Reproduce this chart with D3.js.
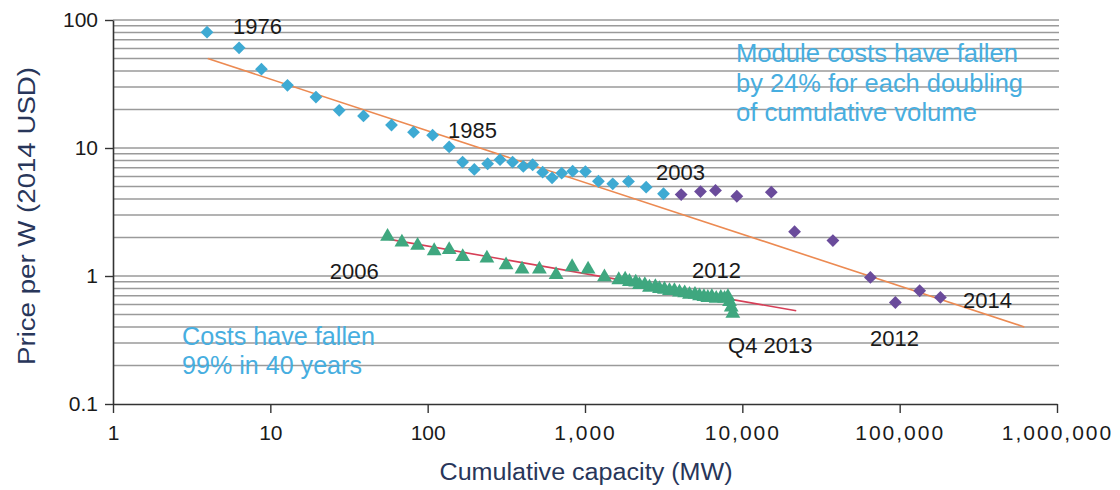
<!DOCTYPE html>
<html><head><meta charset="utf-8">
<script src="https://cdn.jsdelivr.net/npm/d3@7"></script>
<style>body{margin:0;background:#fff}svg{display:block}text{font-family:"Liberation Sans",Arial,Helvetica,sans-serif}</style>
</head><body><svg id="c" width="1120" height="490"></svg>
<script>
// Module price history (cumulative MW, $/W) — blue diamonds
const moduleBlue = [[3.96,80.4],[6.33,60.6],[8.78,41.3],[12.85,30.9],[19.5,25.0],[27.4,19.7],[39.1,17.8],[58.9,15.1],[81.3,13.3],[107.5,12.6],[137,10.2],[166.8,7.76],[197.9,6.8],[240.5,7.53],[288.4,8.1],[346.7,7.76],[405.5,7.18],[464.7,7.4],[538,6.47],[617.6,5.85],[711,6.36],[835,6.59],[1006,6.54],[1217,5.5],[1501,5.25],[1889,5.48],[2448,4.94],[3155,4.39]];
// later module prices — purple diamonds
const modulePurple = [[4085,4.33],[5420,4.57],[6754,4.66],[9228,4.2],[15280,4.52],[21480,2.22],[37640,1.89],[65150,0.975],[93900,0.621],[134000,0.767],[181500,0.68]];
// system/quarterly prices — green triangles
const systemGreen = [[55.6,2.07],[68.6,1.87],[86.3,1.76],[110,1.6],[137,1.63],[167,1.44],[238,1.4],[315,1.24],[398,1.15],[513,1.15],[655,1.04],[828,1.2],[1046,1.15],[1329,1.0],[1639,0.95],[1800,0.96],[1916,0.92],[2100,0.91],[2218,0.87],[2400,0.87],[2568,0.83],[2800,0.84],[2973,0.81],[3200,0.8],[3443,0.78],[3700,0.78],[3986,0.76],[4300,0.75],[4615,0.73],[5000,0.73],[5342,0.71],[5700,0.7],[6033,0.69],[6400,0.7],[6823,0.68],[7300,0.69],[7709,0.68],[8100,0.7],[8290,0.64],[8500,0.58],[8700,0.52]];
// trend lines
const moduleTrend = [[4,50],[620000,0.40]];
const systemTrend = [[55,1.95],[22000,0.535]];
// axis ticks
const xTicks = [1,10,100,1000,10000,100000,1000000];
const yTicks = [0.1,1,10,100];
// annotations: [text, x value, y value]
const yearLabels = [["1976",5.79,77.7],["1985",134.7,11.97],["2003",2827,5.62],["2012",4786,0.965],["2006",23.9,0.948],["Q4 2013",8110,0.25],["2012",64800,0.284],["2014",252700,0.562]];
const moduleNote = ["Module costs have fallen","by 24% for each doubling","of cumulative volume"];
const costsNote = ["Costs have fallen","99% in 40 years"];

const svg = d3.select("#c");
const x = d3.scaleLog().domain([1,1e6]).range([113,1057]);
const y = d3.scaleLog().domain([0.1,100]).range([404,20]);

// gridlines
const grid = [];
[0.1,1,10].forEach(d=>{for(let k=1;k<=9;k++){const v=d*k; if(v>0.1+1e-9) grid.push(v);}});
grid.push(100);
svg.append("g").selectAll("line").data(grid).join("line")
  .attr("x1",x(1)).attr("x2",x(1e6)+2)
  .attr("y1",d=>y(d)).attr("y2",d=>y(d))
  .attr("stroke","#9a9a9a").attr("stroke-width",1.5);

// notes (blue text)
const blueTxt = "#47aee0";
svg.append("g").selectAll("text").data(moduleNote).join("text")
  .attr("x",736).attr("y",(d,i)=>62+i*29.7)
  .attr("fill",blueTxt).attr("font-size",25)
  .attr("textLength",(d,i)=>[282,287,241][i]).attr("lengthAdjust","spacingAndGlyphs")
  .text(d=>d);
svg.append("g").selectAll("text").data(costsNote).join("text")
  .attr("x",182).attr("y",(d,i)=>345+i*28.5)
  .attr("fill",blueTxt).attr("font-size",25)
  .attr("textLength",(d,i)=>[193,180][i]).attr("lengthAdjust","spacingAndGlyphs")
  .text(d=>d);

// trend lines
const line = d3.line().x(d=>x(d[0])).y(d=>y(d[1]));
svg.append("path").datum(systemTrend).attr("d",line).attr("fill","none").attr("stroke","#d63f57").attr("stroke-width",1.6);

// markers
const tri = d3.symbol().type(d3.symbolTriangle).size(95);
svg.append("g").selectAll("path").data(systemGreen).join("path")
  .attr("d",tri).attr("transform",d=>`translate(${x(d[0])},${y(d[1])+1})`)
  .attr("fill","#3fa77f");

svg.append("path").datum(moduleTrend).attr("d",line).attr("fill","none").attr("stroke","#ec8a52").attr("stroke-width",1.6);

const dia = d3.symbol().type(d3.symbolSquare).size(82);
svg.append("g").selectAll("path").data(moduleBlue).join("path")
  .attr("d",dia).attr("transform",d=>`translate(${x(d[0])},${y(d[1])}) rotate(45)`)
  .attr("fill","#3eaad3");
svg.append("g").selectAll("path").data(modulePurple).join("path")
  .attr("d",dia).attr("transform",d=>`translate(${x(d[0])},${y(d[1])}) rotate(45)`)
  .attr("fill","#6a4b9b");

// year labels
svg.append("g").selectAll("text").data(yearLabels).join("text")
  .attr("x",d=>x(d[1])).attr("y",d=>y(d[2]))
  .attr("font-size",22).attr("fill","#1a1a1a").text(d=>d[0]);

// axes
const axColor = "#333";
const gx = svg.append("g").attr("transform","translate(0,404)")
  .call(d3.axisBottom(x).tickValues(xTicks).tickFormat(d3.format(",")).tickSize(9).tickSizeOuter(0).tickPadding(12));
const gy = svg.append("g").attr("transform","translate(113,0)")
  .call(d3.axisLeft(y).tickValues(yTicks).tickFormat(d=>d<1?"0.1":String(d)).tickSize(8).tickSizeOuter(0).tickPadding(7));
[gx,gy].forEach(g=>{
  g.select(".domain").attr("stroke",axColor).attr("stroke-width",1.6);
  g.selectAll(".tick line").attr("stroke",axColor).attr("stroke-width",1.4);
  g.selectAll("text").attr("font-size",21).attr("fill","#1a1a1a").attr("font-family","'Liberation Sans',Arial,sans-serif");
});
gx.selectAll(".tick text").attr("letter-spacing",d=>d>=1000?"2px":null);

// axis titles
svg.append("text").attr("x",586).attr("y",480).attr("text-anchor","middle")
  .attr("font-size",23).attr("fill","#28365a")
  .attr("textLength",293).attr("lengthAdjust","spacingAndGlyphs")
  .text("Cumulative capacity (MW)");
svg.append("text").attr("transform","translate(35,216) rotate(-90)").attr("text-anchor","middle")
  .attr("font-size",23).attr("fill","#28365a")
  .attr("textLength",298).attr("lengthAdjust","spacingAndGlyphs")
  .text("Price per W (2014 USD)");
</script></body></html>
